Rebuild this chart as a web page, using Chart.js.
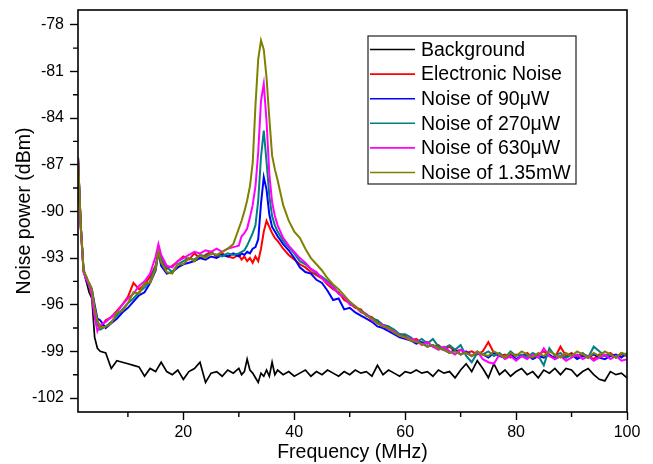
<!DOCTYPE html>
<html>
<head>
<meta charset="utf-8">
<script src="https://cdn.jsdelivr.net/npm/chart.js@4/dist/chart.umd.min.js"></script>
<style>
  html, body { margin: 0; padding: 0; background: #fff; }
  #wrap { width: 653px; height: 464px; }
</style>
</head>
<body>
<div id="wrap"><canvas id="noiseChart" width="653" height="464"></canvas></div>
<script>
// frequency grid (MHz), shared by all traces
const freq = [
  1, 1.5, 2, 2.5, 3, 3.5, 4, 4.5, 5,
  6, 7, 8, 9, 10, 11, 12, 13, 14, 15, 15.5,
  16, 17, 18, 19, 20, 21, 22, 23, 24, 25, 26, 27, 28, 29, 30,
  30.5, 31, 31.5, 32, 32.5, 33, 33.5, 34, 34.5, 35, 35.5, 36, 36.5, 37,
  38, 39, 40, 41, 42, 43, 44, 45, 46, 47,
  48, 49, 50, 51, 52, 53, 54, 55, 56, 57,
  58, 59, 60, 61, 62, 63, 64, 65, 66, 67,
  68, 69, 70, 71, 72, 73, 74, 75, 76, 77,
  78, 79, 80, 81, 82, 83, 84, 85, 86, 87,
  88, 89, 90, 91, 92, 93, 94, 95, 96, 97,
  98, 99, 100
];

const background = [
  -86.5, -90.8, -93.7, -94.5, -95.2, -95.6, -98.1, -98.8, -99.0,
  -99.1, -100.1, -99.6, -99.7, -99.8, -99.9, -100.0, -100.6, -100.1, -100.3, -100.0,
  -99.7, -100.3, -100.5, -100.2, -100.8, -100.3, -100.1, -99.7, -101.0, -100.4, -100.3, -100.6, -100.2, -100.4, -100.1,
  -100.5, -100.3, -99.5, -100.2, -100.4, -100.7, -101.0, -100.4, -100.6, -100.2, -100.6, -99.7, -100.5, -100.2,
  -100.5, -100.3, -100.6, -100.4, -100.2, -100.6, -100.3, -100.5, -100.2, -100.4,
  -100.6, -100.3, -100.5, -100.2, -100.4, -100.3, -100.6, -99.9, -100.5, -100.2,
  -100.4, -100.6, -100.3, -100.4, -100.2, -100.4, -100.3, -100.6, -100.2, -100.4,
  -100.3, -100.7, -100.2, -99.8, -100.3, -99.6, -100.1, -100.7, -99.8, -100.5,
  -100.2, -100.6, -100.3, -100.1, -100.5, -100.3, -100.7, -100.2, -100.4, -100.1,
  -100.5, -100.1, -100.2, -100.6, -100.3, -100.1, -100.5, -100.8, -100.9, -100.3,
  -100.5, -100.4, -100.7
];

const electronic = [
  -86.5, -91.0, -93.9, -94.2, -94.8, -95.3, -96.6, -97.0, -97.5,
  -97.0, -96.8, -96.4, -96.0, -95.5, -94.6, -95.0, -94.7, -94.2, -93.5, -92.6,
  -93.1, -93.7, -93.5, -93.2, -92.9, -93.1, -92.7, -93.0, -92.8, -92.6, -92.9, -92.7, -92.9, -93.0, -92.8,
  -93.1, -92.9, -93.2, -93.0, -93.3, -92.9, -93.2, -92.4, -91.3, -90.6, -91.0, -91.4, -91.7, -91.9,
  -92.4, -92.8, -93.1, -93.4, -93.6, -93.9, -94.1, -94.3, -94.7, -95.0,
  -95.2, -95.7, -95.9, -96.2, -96.3, -96.7, -96.8, -97.1, -97.3, -97.4,
  -97.8, -97.9, -98.0, -98.3, -98.2, -98.5, -98.4, -98.7, -98.6, -98.9,
  -98.7, -99.0, -98.9, -99.1, -99.0, -99.2, -99.0, -98.4, -99.1, -99.3,
  -99.2, -99.4, -99.2, -99.3, -99.1, -99.4, -99.2, -99.0, -99.3, -99.4,
  -98.7, -99.3, -99.1, -99.4, -99.2, -99.3, -99.5, -99.2, -99.3, -99.1,
  -99.4, -99.2, -99.3
];

const noise90uW = [
  -86.5, -90.9, -93.8, -94.5, -94.6, -95.0, -96.0, -96.9, -97.0,
  -97.5, -97.2, -96.9, -96.5, -96.2, -95.8, -95.4, -95.2, -94.6, -93.8, -92.6,
  -93.5, -94.0, -93.9, -93.6, -93.4, -93.3, -93.2, -93.0, -93.1, -92.9, -93.0, -92.8, -92.9, -92.7, -92.9,
  -92.7, -92.8, -92.6, -92.7, -92.4, -92.3, -91.8, -89.5, -87.8, -88.6, -90.2, -91.0, -91.3, -91.6,
  -92.1, -92.5, -93.0, -93.6, -93.9, -94.0, -94.4, -94.6, -95.1, -95.7,
  -95.6, -96.3, -96.2, -96.5, -96.7, -96.9, -97.1, -97.4, -97.5, -97.7,
  -97.9, -98.1, -98.2, -98.3, -98.5, -98.4, -98.7, -98.6, -98.8, -98.9,
  -99.1, -98.9, -99.2, -99.0, -99.3, -99.1, -99.2, -99.4, -99.1, -99.3,
  -99.4, -99.2, -99.5, -99.3, -99.2, -99.5, -99.3, -99.4, -99.2, -99.5,
  -99.3, -99.4, -99.2, -99.5, -99.3, -99.4, -99.2, -99.4, -99.5, -99.3,
  -99.2, -99.4, -99.1
];

const noise270uW = [
  -86.5, -91.0, -93.7, -94.3, -94.8, -95.3, -96.5, -97.3, -97.6,
  -97.4, -97.1, -96.7, -96.3, -95.9, -95.6, -95.2, -94.9, -94.5, -93.5, -92.7,
  -93.0, -93.6, -93.9, -93.4, -93.2, -93.0, -93.1, -92.8, -92.9, -92.7, -92.8, -92.9, -92.7, -92.8, -92.7,
  -92.6, -92.5, -92.2, -91.8, -91.4, -90.9, -89.3, -86.5, -84.8, -86.8, -89.0, -90.3, -90.9, -91.3,
  -91.9, -92.3, -92.7, -93.2, -93.4, -93.7, -94.0, -94.2, -94.5, -94.8,
  -95.3, -95.5, -95.9, -96.1, -96.4, -96.6, -96.9, -97.0, -97.3, -97.4,
  -97.6, -97.9, -97.9, -98.1, -98.4, -98.2, -98.5, -98.2, -98.7, -98.8,
  -98.6, -98.9, -98.6, -99.3, -99.7, -99.1, -99.2, -99.0, -99.3, -99.1,
  -99.4, -99.0, -99.3, -99.2, -99.4, -99.1, -99.3, -99.9, -98.8, -99.3,
  -99.1, -99.4, -99.2, -99.3, -99.1, -99.4, -98.7, -99.0, -99.3, -99.2,
  -99.4, -99.1, -99.3
];

const noise630uW = [
  -86.5, -91.1, -93.9, -94.4, -94.7, -95.4, -96.8, -97.7, -97.3,
  -97.1, -96.8, -96.5, -96.0, -95.6, -95.3, -94.8, -94.5, -94.0, -92.9, -92.1,
  -92.8, -93.5, -93.6, -93.2, -93.0, -92.8, -92.6, -92.7, -92.5, -92.6, -92.4, -92.6, -92.4, -92.3, -92.2,
  -91.6, -91.4, -91.1, -90.4, -89.6, -88.4, -86.2, -82.9, -81.8, -84.2, -87.6, -89.4, -90.3, -90.9,
  -91.7, -92.2, -92.6, -93.0, -93.3, -93.7, -93.9, -94.3, -94.6, -94.9,
  -95.3, -95.5, -96.0, -96.1, -96.5, -96.6, -97.0, -97.2, -97.3, -97.6,
  -97.7, -98.0, -98.1, -98.2, -98.3, -98.6, -98.4, -98.7, -98.9, -98.7,
  -99.0, -99.2, -98.9, -99.1, -99.3, -99.0, -99.5, -99.7, -99.8, -99.2,
  -99.5, -99.3, -99.6, -99.3, -99.5, -99.2, -99.4, -98.8, -99.3, -99.5,
  -99.3, -99.6, -99.4, -99.2, -99.5, -99.3, -99.6, -99.4, -99.2, -99.5,
  -99.3, -99.6, -99.5
];

const noise135mW = [
  -86.5, -90.9, -93.8, -94.2, -94.6, -95.0, -96.2, -97.0, -97.5,
  -97.4, -97.2, -96.5, -96.4, -95.9, -95.2, -95.3, -94.6, -94.6, -93.7, -92.6,
  -93.3, -93.9, -94.0, -93.4, -93.4, -93.0, -93.2, -92.8, -93.0, -92.7, -92.8, -92.6, -92.4, -92.1, -91.1,
  -90.6, -90.0, -89.3, -88.4, -86.9, -83.2, -80.2, -79.0, -79.6, -81.4, -84.0, -86.4, -87.3, -88.0,
  -89.6, -90.6, -91.3, -91.7, -92.4, -93.0, -93.4, -93.8, -94.3, -94.7,
  -95.0, -95.4, -95.8, -96.1, -96.4, -96.7, -96.9, -97.2, -97.4, -97.5,
  -97.8, -98.0, -98.1, -98.3, -98.4, -98.5, -98.7, -98.6, -98.8, -98.9,
  -99.1, -99.0, -99.2, -99.1, -99.3, -99.0, -99.2, -99.3, -99.0, -99.2,
  -99.4, -99.1, -99.3, -99.0, -99.2, -99.4, -99.1, -99.3, -99.0, -99.2,
  -99.4, -99.1, -99.3, -99.0, -99.2, -99.4, -99.1, -99.3, -99.0, -99.2,
  -99.4, -99.1, -99.2
];

const seriesLabels = ['Background', 'Electronic Noise', 'Noise of 90\u03bcW', 'Noise of 270\u03bcW', 'Noise of 630\u03bcW', 'Noise of 1.35mW'];
const seriesColors = ['#000000', '#ff0000', '#0000ff', '#008080', '#ff00ff', '#808000'];
const seriesValues = [background, electronic, noise90uW, noise270uW, noise630uW, noise135mW];

const xTicks = [20, 40, 60, 80, 100];
const xMinorTicks = [10, 30, 50, 70, 90];
const yTicks = [-102, -99, -96, -93, -90, -87, -84, -81, -78];
const yMinorTicks = [-100.5, -97.5, -94.5, -91.5, -88.5, -85.5, -82.5, -79.5];

const FONT = "'Liberation Sans', Arial, sans-serif";

const datasets = seriesValues.map((vals, i) => ({
  label: seriesLabels[i],
  data: freq.map((f, j) => ({ x: f, y: vals[j] })),
  borderColor: seriesColors[i],
  backgroundColor: seriesColors[i],
  borderWidth: i === 0 ? 1.7 : 2,
  pointRadius: 0,
  tension: 0,
  fill: false,
  order: seriesValues.length - i
}));

// box frame + minor ticks
const framePlugin = {
  id: 'frame',
  afterDraw(chart) {
    const { ctx, chartArea } = chart;
    const xs = chart.scales.x, ys = chart.scales.y;
    ctx.save();
    ctx.strokeStyle = '#000';
    ctx.lineWidth = 1.6;
    ctx.strokeRect(chartArea.left, chartArea.top, chartArea.right - chartArea.left, chartArea.bottom - chartArea.top);
    ctx.lineWidth = 1.4;
    ctx.beginPath();
    xMinorTicks.forEach(v => {
      const px = xs.getPixelForValue(v);
      ctx.moveTo(px, chartArea.bottom);
      ctx.lineTo(px, chartArea.bottom + 5);
    });
    yMinorTicks.forEach(v => {
      const py = ys.getPixelForValue(v);
      ctx.moveTo(chartArea.left, py);
      ctx.lineTo(chartArea.left - 5, py);
    });
    ctx.stroke();
    ctx.restore();
  }
};

// legend box inside the plot
const legendPlugin = {
  id: 'boxLegend',
  afterDraw(chart) {
    const { ctx, chartArea } = chart;
    const x0 = chartArea.left + 290, y0 = chartArea.top + 26;
    const w = 208, h = 148, rowH = 24.6;
    ctx.save();
    ctx.fillStyle = '#fff';
    ctx.fillRect(x0, y0, w, h);
    ctx.strokeStyle = '#222';
    ctx.lineWidth = 1.2;
    ctx.strokeRect(x0, y0, w, h);
    ctx.font = '19.5px ' + FONT;
    ctx.textBaseline = 'middle';
    seriesLabels.forEach((lab, i) => {
      const y = y0 + 13.5 + i * rowH;
      ctx.strokeStyle = seriesColors[i];
      ctx.lineWidth = 1.6;
      ctx.beginPath();
      ctx.moveTo(x0 + 2, y);
      ctx.lineTo(x0 + 47, y);
      ctx.stroke();
      ctx.fillStyle = '#000';
      ctx.fillText(lab, x0 + 53, y + 1);
    });
    ctx.restore();
  }
};

new Chart(document.getElementById('noiseChart'), {
  type: 'line',
  data: { datasets: datasets },
  options: {
    responsive: false,
    animation: false,
    devicePixelRatio: 1,
    layout: { padding: { left: 0, top: 10, right: 26, bottom: 0 } },
    plugins: { legend: { display: false }, tooltip: { enabled: false } },
    scales: {
      x: {
        type: 'linear',
        min: 1,
        max: 100,
        afterBuildTicks: s => { s.ticks = xTicks.map(v => ({ value: v })); },
        afterFit: s => { s.height = 52; s.paddingLeft = 0; s.paddingRight = 0; },
        grid: { drawOnChartArea: false, drawTicks: true, tickLength: 8, tickColor: '#000', tickWidth: 1.4 },
        border: { display: false },
        ticks: { color: '#000', font: { family: FONT, size: 16 }, padding: 3, maxRotation: 0 },
        title: { display: true, text: 'Frequency (MHz)', color: '#000', font: { family: FONT, size: 19.5 }, padding: 0 }
      },
      y: {
        type: 'linear',
        min: -102.9,
        max: -77.05,
        afterBuildTicks: s => { s.ticks = yTicks.map(v => ({ value: v })); },
        afterFit: s => { s.width = 78; s.paddingTop = 0; s.paddingBottom = 0; },
        grid: { drawOnChartArea: false, drawTicks: true, tickLength: 8, tickColor: '#000', tickWidth: 1.4 },
        border: { display: false },
        ticks: { color: '#000', font: { family: FONT, size: 16 }, padding: 6 },
        title: { display: true, text: 'Noise power (dBm)', color: '#000', font: { family: FONT, size: 19.5 }, padding: { top: 13, bottom: 0 } }
      }
    }
  },
  plugins: [framePlugin, legendPlugin]
});
</script>
</body>
</html>
